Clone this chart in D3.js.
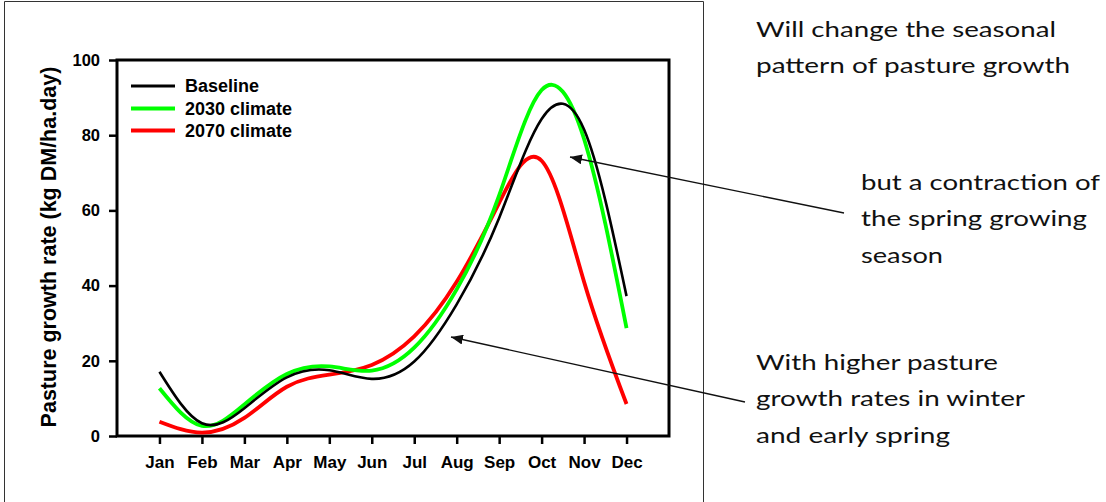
<!DOCTYPE html>
<html><head><meta charset="utf-8">
<script src="https://cdn.jsdelivr.net/npm/d3@7"></script>
<style>body{margin:0;background:#fff} svg{display:block}</style>
</head><body>
<svg id="c" width="1106" height="502"></svg>
<script>
// ---- data ----
const months = ["Jan","Feb","Mar","Apr","May","Jun","Jul","Aug","Sep","Oct","Nov","Dec"];
const baseline    = [17.1, 3.4, 7.4, 15.6, 17.5, 15.2, 19.8, 35.0, 58.0, 84.3, 81.5, 37.2];
const climate2030 = [12.7, 2.7, 8.4, 16.5, 18.5, 17.4, 23.5, 39.0, 64.0, 92.0, 79.0, 28.7];
const climate2070 = [ 3.8, 0.9, 4.8, 13.1, 16.3, 18.9, 26.5, 41.0, 62.0, 73.2, 41.0,  8.5];
const yTicks = [0, 20, 40, 60, 80, 100];
const seriesNames = ["Baseline", "2030 climate", "2070 climate"];
const yTitle = "Pasture growth rate (kg DM/ha.day)";
const noteTop = ["Will change the seasonal", "pattern of pasture growth"];
const noteMid = ["but a contraction of", "the spring growing", "season"];
const noteLow = ["With higher pasture", "growth rates in winter", "and early spring"];

// ---- layout / style ----
const svg = d3.select("#c");
const L = 117, R = 669, T = 60, B = 436;
const x = d3.scaleLinear().domain([0, 13]).range([L, R]);
const y = d3.scaleLinear().domain([0, 100]).range([B, T]);
const colors = ["#000000", "#00ff00", "#ff0000"];
const widths = [2.6, 3.8, 3.8];
const chartFont = "'Liberation Sans', Arial, sans-serif";

// outer slide frame
svg.append("path").attr("d", "M4.5,520 V1.5 H703.5 V520")
  .attr("fill", "none").attr("stroke", "#333").attr("stroke-width", 1);

// x axis
const xa = svg.append("g").attr("transform", `translate(0,${B})`)
  .call(d3.axisBottom(x).tickValues(d3.range(1, 13)).tickFormat(i => months[i - 1])
    .tickSize(8).tickSizeOuter(0).tickPadding(12));
xa.select(".domain").remove();
xa.selectAll("line").attr("stroke", "#000").attr("stroke-width", 2.5);
xa.selectAll("text").attr("font-family", chartFont).attr("font-weight", "bold")
  .attr("font-size", 17).attr("fill", "#000");

// y axis
const ya = svg.append("g").attr("transform", `translate(${L},0)`)
  .call(d3.axisLeft(y).tickValues(yTicks).tickSize(8).tickSizeOuter(0).tickPadding(9));
ya.select(".domain").remove();
ya.selectAll("line").attr("stroke", "#000").attr("stroke-width", 2.5);
ya.selectAll("text").attr("font-family", chartFont).attr("font-weight", "bold")
  .attr("font-size", 16.5).attr("fill", "#000");

// plot frame
svg.append("rect").attr("x", L).attr("y", T).attr("width", R - L).attr("height", B - T)
  .attr("fill", "none").attr("stroke", "#000").attr("stroke-width", 3);

// y title
svg.append("text").attr("transform", `translate(56,247) rotate(-90)`)
  .attr("text-anchor", "middle").attr("font-family", chartFont).attr("font-weight", "bold")
  .attr("font-size", 21.5).attr("fill", "#000").text(yTitle);

// series lines
const line = d3.line().x((d, i) => x(i + 1)).y(d => y(d)).curve(d3.curveNatural);
const series = [baseline, climate2030, climate2070];
[2, 1, 0].forEach(k => {
  svg.append("path").datum(series[k]).attr("d", line)
    .attr("fill", "none").attr("stroke", colors[k]).attr("stroke-width", widths[k])
    .attr("stroke-linecap", "butt");
});

// legend
const legY = [86, 108.5, 130.5];
seriesNames.forEach((n, k) => {
  svg.append("line").attr("x1", 131).attr("x2", 175).attr("y1", legY[k]).attr("y2", legY[k])
    .attr("stroke", colors[k]).attr("stroke-width", k === 0 ? 3 : 4);
  svg.append("text").attr("x", 185).attr("y", legY[k]).attr("dy", "0.36em")
    .attr("font-family", chartFont).attr("font-weight", "bold").attr("font-size", 18)
    .attr("fill", "#000").text(n);
});

// arrows
const defs = svg.append("defs");
defs.append("marker").attr("id", "ah").attr("viewBox", "0 0 12 10").attr("refX", 12).attr("refY", 5)
  .attr("markerWidth", 12).attr("markerHeight", 10).attr("markerUnits", "userSpaceOnUse")
  .attr("orient", "auto").append("path").attr("d", "M0,0 L12,5 L0,10 Z").attr("fill", "#111");
const arrows = [[844, 213, 570, 157], [745, 402, 451, 337]];
arrows.forEach(a => {
  svg.append("line").attr("x1", a[0]).attr("y1", a[1]).attr("x2", a[2]).attr("y2", a[3])
    .attr("stroke", "#111").attr("stroke-width", 1.4).attr("marker-end", "url(#ah)");
});

// annotation texts
const noteFont = "Lato, 'Open Sans', sans-serif";
function note(lines, x0, y0, lens) {
  lines.forEach((t, i) => {
    svg.append("text").attr("x", x0).attr("y", y0 + i * 36.3)
      .attr("font-family", noteFont).attr("font-size", 22).attr("fill", "#111")
      .attr("textLength", lens[i]).attr("lengthAdjust", "spacingAndGlyphs").text(t);
  });
}
note(noteTop, 756, 37, [300, 314]);
note(noteMid, 861, 190, [239, 226, 82]);
note(noteLow, 756, 370, [242, 269, 194]);
</script>
</body></html>
